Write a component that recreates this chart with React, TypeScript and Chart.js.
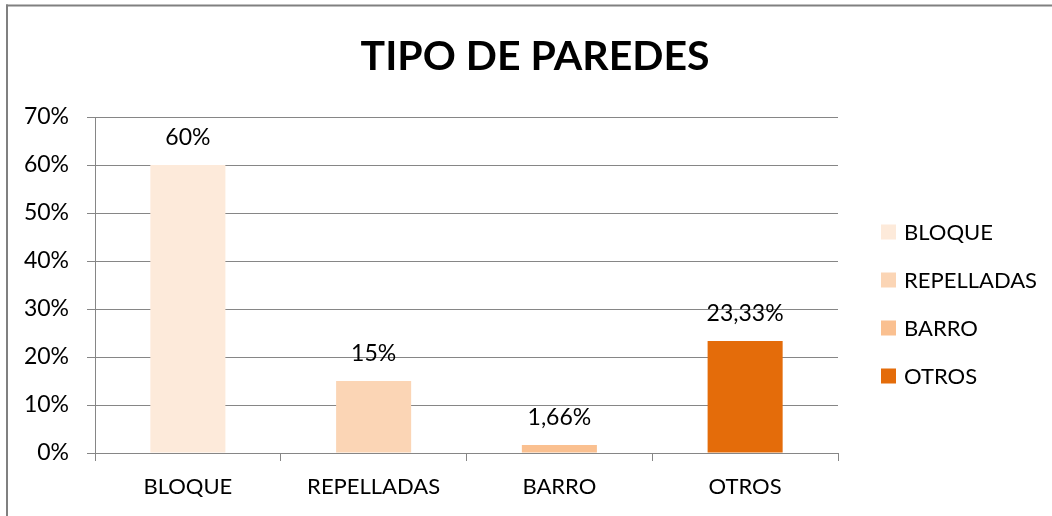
import React, { useEffect, useRef } from "react";
import { Chart, registerables } from "chart.js";

Chart.register(...registerables);

const TITLE = "TIPO DE PAREDES";
const categories = ["BLOQUE", "REPELLADAS", "BARRO", "OTROS"];
const values = [60, 15, 1.66, 23.33];
const valueLabels = ["60%", "15%", "1,66%", "23,33%"];
const colors = ["#FDEADA", "#FBD5B5", "#FAC090", "#E46C0A"];
const yMax = 70;
const yStep = 10;

const FONT = "Lato, 'Noto Sans', sans-serif";
const GRID = "#868686";

export default function App() {
  const ref = useRef<HTMLCanvasElement | null>(null);

  useEffect(() => {
    document.body.style.margin = "0";
    const canvas = ref.current;
    if (!canvas) return;

    const framePlugin = {
      id: "frame",
      beforeDraw(chart: any) {
        const ctx = chart.ctx;
        ctx.save();
        ctx.fillStyle = "#ffffff";
        ctx.fillRect(0, 0, chart.width, chart.height);
        ctx.fillStyle = "#808080";
        ctx.fillRect(6, 4.5, 2, chart.height);
        ctx.fillRect(6, 4.5, chart.width, 2);
        ctx.restore();
      },
    };

    const overlayPlugin = {
      id: "overlay",
      afterDraw(chart: any) {
        const ctx = chart.ctx;
        ctx.save();
        // title
        ctx.fillStyle = "#000";
        ctx.font = `bold 41px ${FONT}`;
        ctx.textAlign = "center";
        ctx.textBaseline = "middle";
        ctx.fillText(TITLE, 535, 57);

        // data labels
        const meta = chart.getDatasetMeta(0);
        ctx.font = `23px ${FONT}`;
        meta.data.forEach((el: any, i: number) => {
          ctx.fillText(valueLabels[i], el.x, el.y - 27);
        });

        // legend
        ctx.textAlign = "left";
        ctx.font = `22px ${FONT}`;
        const rowY = [232, 280, 328, 376];
        categories.forEach((c, i) => {
          ctx.fillStyle = colors[i];
          ctx.fillRect(881, rowY[i] - 7.5, 15, 15);
          ctx.fillStyle = "#000";
          ctx.fillText(c, 904, rowY[i] + 1);
        });
        ctx.restore();
      },
    };

    const chart = new Chart(canvas, {
      type: "bar",
      data: {
        labels: categories,
        datasets: [
          {
            data: values,
            backgroundColor: colors,
            borderWidth: 0,
            categoryPercentage: 1,
            barPercentage: 0.404,
          },
        ],
      },
      options: {
        responsive: false,
        animation: false,
        devicePixelRatio: 1,
        layout: { padding: { top: 117, right: 214, bottom: 0, left: 0 } },
        plugins: {
          legend: { display: false },
          title: { display: false },
          tooltip: { enabled: false },
        },
        scales: {
          x: {
            afterFit(scale: any) {
              scale.height = 63;
            },
            grid: {
              offset: true,
              drawOnChartArea: false,
              drawTicks: true,
              tickLength: 8,
              color: GRID,
            },
            border: { color: GRID },
            ticks: {
              color: "#000",
              padding: 13,
              font: { family: FONT, size: 22 },
            },
          },
          y: {
            min: 0,
            max: yMax,
            afterFit(scale: any) {
              scale.width = 95;
            },
            grid: {
              color: GRID,
              drawTicks: true,
              tickLength: 8,
            },
            border: { color: GRID },
            ticks: {
              stepSize: yStep,
              color: "#000",
              padding: 18,
              font: { family: FONT, size: 23 },
              callback: (v: any) => `${v}%`,
            },
          },
        },
      },
      plugins: [framePlugin, overlayPlugin],
    });

    return () => chart.destroy();
  }, []);

  return (
    <canvas
      ref={ref}
      width={1052}
      height={516}
      style={{ display: "block", width: 1052, height: 516 }}
    />
  );
}
